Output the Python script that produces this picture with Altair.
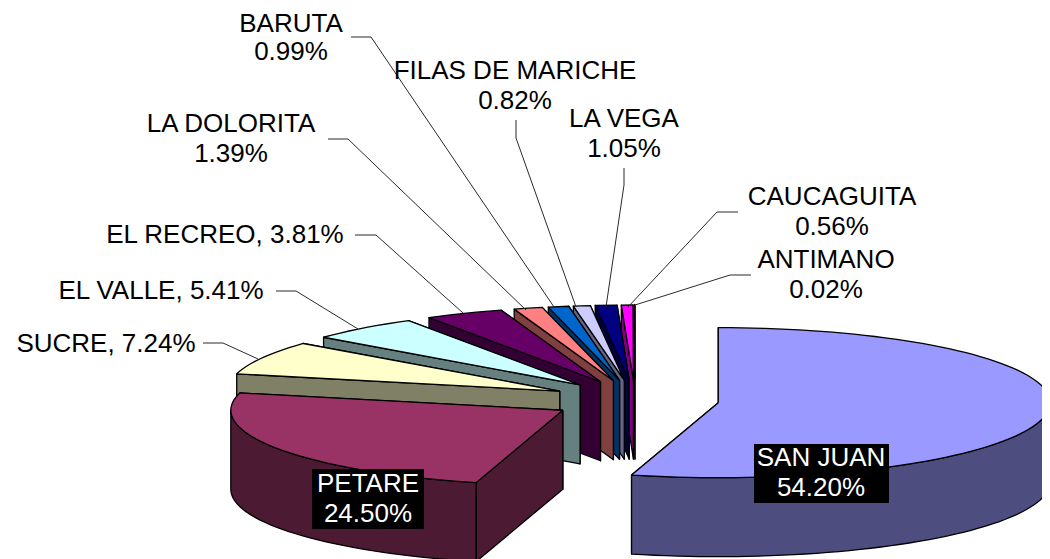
import math
import altair as alt
import pandas as pd

# --- chart values ---
names = ["SAN JUAN", "PETARE", "SUCRE", "EL VALLE", "EL RECREO", "LA DOLORITA",
         "BARUTA", "FILAS DE MARICHE", "LA VEGA", "CAUCAGUITA", "ANTIMANO"]
values = [54.20, 24.50, 7.24, 5.41, 3.81, 1.39, 0.99, 0.82, 1.05, 0.56, 0.02]
top_colors = ["#9999FF", "#993366", "#FFFFCC", "#CCFFFF", "#660066", "#FF8080",
              "#0066CC", "#CCCCFF", "#000080", "#FF00FF", "#FFFF00"]
wall_colors = ["#4D4D80", "#4D1A33", "#808066", "#668080", "#330033", "#804040",
               "#003366", "#666680", "#000040", "#800080", "#808000"]

# --- layout of the tilted pie (pixels of the picture) ---
CX, CY = 635, 400      # pie centre before explosion
RX, RY = 332, 75       # ellipse radii of the top face
EX, EY = 84, 20        # explosion offset
DEPTH = 79             # height of the walls
W, H = 1034, 551       # plot size; the page margin is 8 px

# label layout: centre x and the baseline of each text line
label_layout = {
    "SAN JUAN": (821, [466, 496]),
    "PETARE": (368, [492, 522]),
    "SUCRE": (106, [352]),
    "EL VALLE": (161, [299]),
    "EL RECREO": (225, [243]),
    "LA DOLORITA": (231, [132, 162]),
    "BARUTA": (291, [32, 60]),
    "FILAS DE MARICHE": (515, [79, 109]),
    "LA VEGA": (624, [127, 157]),
    "CAUCAGUITA": (832, [205, 235]),
    "ANTIMANO": (826, [268, 298]),
}
label_boxes = {"SAN JUAN": (754, 889, 444, 503), "PETARE": (312, 424, 469, 529)}
leader_paths = {
    "SUCRE": [(203, 343), (223, 343), (258, 359)],
    "EL VALLE": [(276, 291), (296, 291), (358, 329)],
    "EL RECREO": [(355, 235), (376, 235), (463, 313)],
    "LA DOLORITA": [(328, 139), (348, 139), (526, 310)],
    "BARUTA": [(351, 37), (371, 37), (554, 307)],
    "FILAS DE MARICHE": [(516, 120), (516, 138), (576, 307)],
    "LA VEGA": [(624, 168), (624, 185), (606, 307)],
    "CAUCAGUITA": [(738, 212), (717, 212), (628, 307)],
    "ANTIMANO": [(751, 275), (730, 275), (635, 305)],
}

# --- geometry derived from the values ---
total = sum(values)
spans, acc = [], 0.0
for v in values:
    spans.append((acc, acc + v / total * 360))
    acc += v / total * 360


def pt(c, a, dz=0):
    r = math.radians(a)
    return c[0] + RX * math.sin(r), c[1] - RY * math.cos(r) + dz


def arc(c, a0, a1, dz=0):
    n = max(1, int(abs(a1 - a0) / 2))
    return [pt(c, a0 + (a1 - a0) * i / n, dz) for i in range(n + 1)]


rows = []
piece_no = 0


def add(points, fill):
    global piece_no
    pts = points + [points[0]]
    for s, (x, y) in enumerate(pts):
        rows.append({"piece": f"p{piece_no:03d}", "seq": s, "x": x, "y": y, "fill": fill})
    piece_no += 1


for i in range(len(values) - 1, -1, -1):
    a0, a1 = spans[i]
    mid = math.radians((a0 + a1) / 2)
    c = (CX + EX * math.sin(mid), CY - EY * math.cos(mid))
    wall, top = wall_colors[i], top_colors[i]
    # radial wall on the end side (furthest back)
    q = pt(c, a1)
    add([c, q, (q[0], q[1] + DEPTH), (c[0], c[1] + DEPTH)], wall)
    # radial wall on the start side
    p = pt(c, a0)
    add([c, p, (p[0], p[1] + DEPTH), (c[0], c[1] + DEPTH)], wall)
    # outer wall, front half only
    lo, hi = max(a0, 90), min(a1, 270)
    if lo < hi:
        add(arc(c, lo, hi) + arc(c, hi, lo, DEPTH), wall)
    # top face
    add([c] + arc(c, a0, a1), top)

pieces = pd.DataFrame(rows)

text_rows = []
for n, v in zip(names, values):
    cx, bases = label_layout[n]
    pct = f"{v:.2f}%"
    lines = [n, pct] if len(bases) == 2 else [f"{n}, {pct}"]
    for line, b in zip(lines, bases):
        text_rows.append({"x": cx, "y": b, "t": line, "c": "white" if n in label_boxes else "black"})
texts = pd.DataFrame(text_rows)

boxes = pd.DataFrame([{"x": b[0], "x2": b[1], "y": b[2], "y2": b[3]} for b in label_boxes.values()])

lead_rows = []
for n, path in leader_paths.items():
    for s, (x, y) in enumerate(path):
        lead_rows.append({"n": n, "seq": s, "x": x, "y": y})
leaders = pd.DataFrame(lead_rows)

xs = alt.Scale(domain=[8, 8 + W], nice=False, zero=False)
ys = alt.Scale(domain=[8 + H, 8], nice=False, zero=False)
X = alt.X("x:Q", scale=xs, axis=None)
Y = alt.Y("y:Q", scale=ys, axis=None)

slices = alt.Chart(pieces).mark_line(
    strokeWidth=1.3, strokeJoin="round", clip=True, color="black"
).encode(
    x=X, y=Y, detail="piece:N", order="seq:Q",
    fill=alt.Fill("fill:N", scale=None),
    stroke=alt.value("#000000"),
)

lead = alt.Chart(leaders).mark_line(strokeWidth=1, color="#2a2a2a").encode(
    x=X, y=Y, detail="n:N", order="seq:Q"
)

box = alt.Chart(boxes).mark_rect(color="black").encode(
    x=X, x2="x2:Q", y=Y, y2="y2:Q"
)

label = alt.Chart(texts).mark_text(
    font="Liberation Sans", fontSize=26, align="center", baseline="alphabetic"
).encode(x=X, y=Y, text="t:N", color=alt.Color("c:N", scale=None))

chart = alt.layer(slices, lead, box, label).properties(
    width=W, height=H, padding=0, autosize=alt.AutoSizeParams(type="none"),
    background="white",
).configure_view(stroke=None)

chart.save("out.html", embed_options={"renderer": "svg", "actions": False})
